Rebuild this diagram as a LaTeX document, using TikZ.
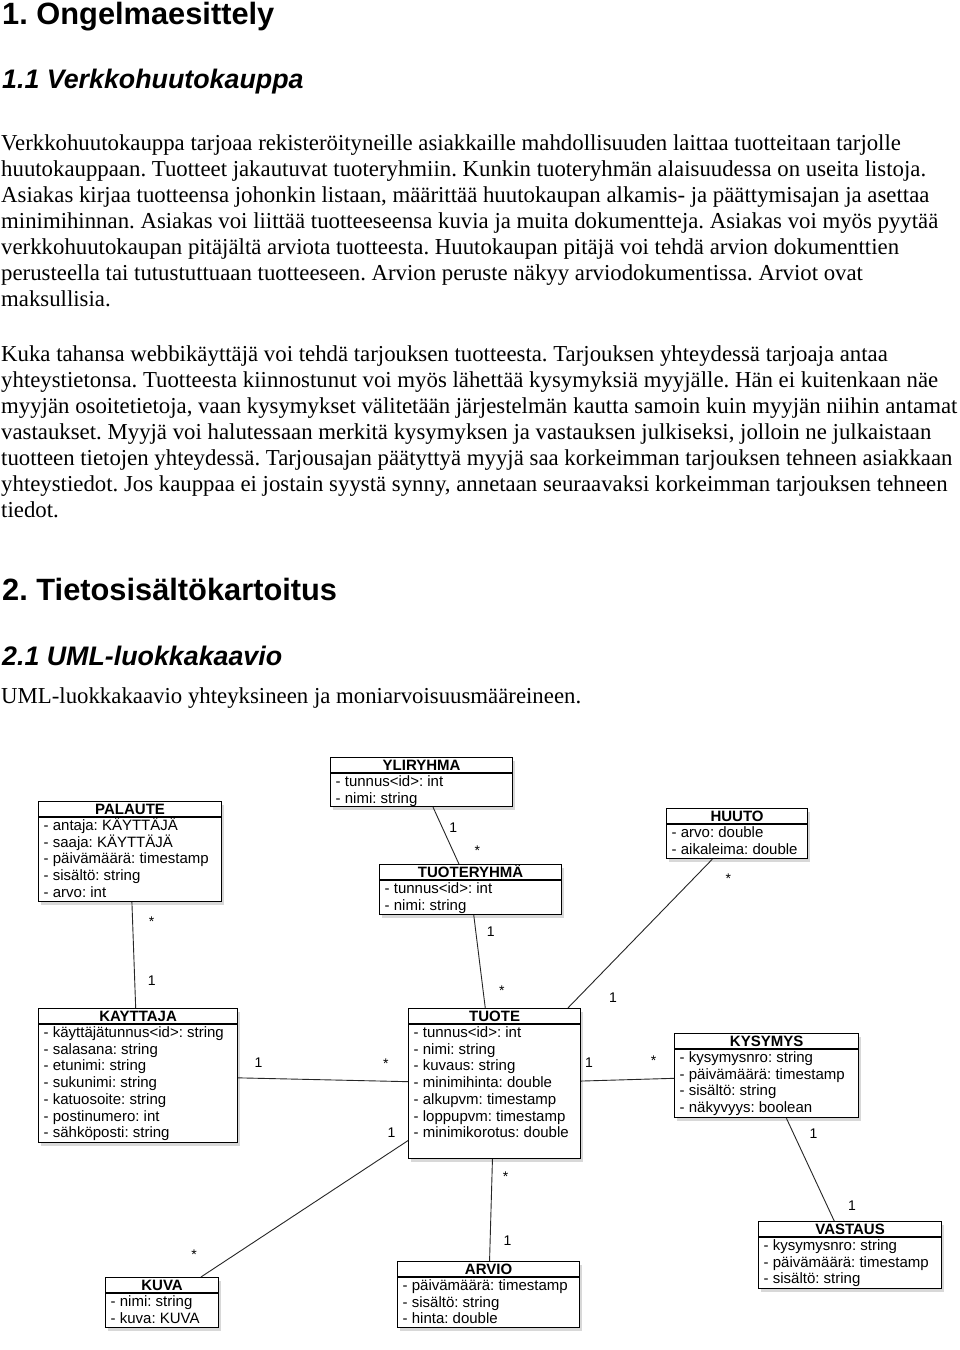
\documentclass[tikz,border=0pt]{standalone}
\usepackage{fontspec}
\setmainfont{Liberation Serif}
\setsansfont{Liberation Sans}
\usetikzlibrary{shadows}

\tikzset{
  classbox/.style={draw=black, line width=1.2pt, fill=white,
    drop shadow={shadow xshift=2pt, shadow yshift=-3pt, opacity=.3}},
  classtitle/.style={anchor=base, inner sep=0pt, font=\sffamily\bfseries\fontsize{15}{16}\selectfont},
  attr/.style={anchor=base west, inner sep=0pt, font=\sffamily\fontsize{15}{16}\selectfont},
  mult/.style={inner sep=0pt, font=\sffamily\fontsize{14}{15}\selectfont},
  multstar/.style={mult, yshift=-3pt},
  assoc/.style={draw=black!85, line width=0.9pt},
  heading/.style={anchor=base west, inner sep=0pt, font=\sffamily\bfseries\fontsize{30.8}{34}\selectfont},
  subheading/.style={anchor=base west, inner sep=0pt, font=\sffamily\bfseries\itshape\fontsize{26.8}{30}\selectfont},
  bodyline/.style={anchor=base west, inner sep=0pt, font=\fontsize{22.8}{26}\selectfont},
}

% name, x, y (top left), width, height, title, rows
\newcommand{\umlclass}[7]{%
  \node[classbox, minimum width=#4pt, minimum height=#5pt, anchor=north west] (#1) at (#2,#3) {};
  \draw[line width=1.2pt] ([yshift=-16pt]#1.north west) -- ([yshift=-16pt]#1.north east);
  \node[classtitle] (#1-title) at ([yshift=-13pt]#1.north) {#6};
  \foreach \row [count=\k] in {#7}
    \node[attr] (#1-\k) at ([xshift=5.5pt, yshift={-12.8pt-16.7pt*\k}]#1.north west) {\row};
}

\begin{document}
\frenchspacing
\begin{tikzpicture}[x=1pt, y=-1pt]
  \path[fill=white, use as bounding box] (0,0) rectangle (960,1350);

  % text part
  \node[heading] (h1) at (2,24) {1. Ongelmaesittely};
  \node[subheading] (h11) at (2,88) {1.1 Verkkohuutokauppa};
  \foreach \txt [count=\i] in {
      {Verkkohuutokauppa tarjoaa rekisteröityneille asiakkaille mahdollisuuden laittaa tuotteitaan tarjolle},
      {huutokauppaan. Tuotteet jakautuvat tuoteryhmiin. Kunkin tuoteryhmän alaisuudessa on useita listoja.},
      {Asiakas kirjaa tuotteensa johonkin listaan, määrittää huutokaupan alkamis- ja päättymisajan ja asettaa},
      {minimihinnan. Asiakas voi liittää tuotteeseensa kuvia ja muita dokumentteja. Asiakas voi myös pyytää},
      {verkkohuutokaupan pitäjältä arviota tuotteesta. Huutokaupan pitäjä voi tehdä arvion dokumenttien},
      {perusteella tai tutustuttuaan tuotteeseen. Arvion peruste näkyy arviodokumentissa. Arviot ovat},
      {maksullisia.}}
    \node[bodyline] (pa\i) at (1,{150+26*(\i-1)}) {\txt};
  \foreach \txt [count=\i] in {
      {Kuka tahansa webbikäyttäjä voi tehdä tarjouksen tuotteesta. Tarjouksen yhteydessä tarjoaja antaa},
      {yhteystietonsa. Tuotteesta kiinnostunut voi myös lähettää kysymyksiä myyjälle. Hän ei kuitenkaan näe},
      {myyjän osoitetietoja, vaan kysymykset välitetään järjestelmän kautta samoin kuin myyjän niihin antamat},
      {vastaukset. Myyjä voi halutessaan merkitä kysymyksen ja vastauksen julkiseksi, jolloin ne julkaistaan},
      {tuotteen tietojen yhteydessä. Tarjousajan päätyttyä myyjä saa korkeimman tarjouksen tehneen asiakkaan},
      {yhteystiedot. Jos kauppaa ei jostain syystä synny, annetaan seuraavaksi korkeimman tarjouksen tehneen},
      {tiedot.}}
    \node[bodyline] (pb\i) at (1,{361+26*(\i-1)}) {\txt};
  \node[heading] (h2) at (2,600) {2. Tietosisältökartoitus};
  \node[subheading] (h21) at (2,665) {2.1 UML-luokkakaavio};
  \node[bodyline] (pc1) at (1,703) {UML-luokkakaavio yhteyksineen ja moniarvoisuusmääreineen.};

  % classes
  \umlclass{palaute}{38}{801}{183}{100}{PALAUTE}{- antaja: KÄYTTÄJÄ, - saaja: KÄYTTÄJÄ,
    - päivämäärä: timestamp, - sisältö: string, - arvo: int}
  \umlclass{yliryhma}{330}{757}{182}{49}{YLIRYHMA}{- tunnus<id>: int, - nimi: string}
  \umlclass{tuoteryhma}{379}{864}{182}{50}{TUOTERYHMÄ}{- tunnus<id>: int, - nimi: string}
  \umlclass{huuto}{666}{808}{141}{50}{HUUTO}{- arvo: double, - aikaleima: double}
  \umlclass{kayttaja}{38}{1008}{199}{134}{KAYTTAJA}{- käyttäjätunnus<id>: string,
    - salasana: string, - etunimi: string, - sukunimi: string, - katuosoite: string,
    - postinumero: int, - sähköposti: string}
  \umlclass{tuote}{408}{1008}{172}{150}{TUOTE}{- tunnus<id>: int, - nimi: string,
    - kuvaus: string, - minimihinta: double, - alkupvm: timestamp, - loppupvm: timestamp,
    - minimikorotus: double}
  \umlclass{kysymys}{674}{1033}{184}{84}{KYSYMYS}{- kysymysnro: string,
    - päivämäärä: timestamp, - sisältö: string, - näkyvyys: boolean}
  \umlclass{vastaus}{758}{1221}{183}{67}{VASTAUS}{- kysymysnro: string,
    - päivämäärä: timestamp, - sisältö: string}
  \umlclass{kuva}{105}{1277}{113}{50}{KUVA}{- nimi: string, - kuva: KUVA}
  \umlclass{arvio}{397}{1261}{182}{66}{ARVIO}{- päivämäärä: timestamp, - sisältö: string,
    - hinta: double}

  % associations
  \draw[assoc] (palaute) -- node[multstar, pos=.16, xshift=19pt] (m1) {*}
    node[mult, pos=.74, xshift=17pt] (m2) {1} (kayttaja);
  \draw[assoc] (yliryhma) -- node[mult, pos=.36, xshift=11pt] (m3) {1}
    node[multstar, pos=.71, xshift=26pt] (m4) {*} (tuoteryhma);
  \draw[assoc] (tuoteryhma) -- node[mult, pos=.18, xshift=15pt] (m5) {1}
    node[multstar, pos=.78, xshift=19pt] (m6) {*} (tuote);
  \draw[assoc] (huuto) -- node[multstar, pos=.11, xshift=32pt] (m7) {*}
    node[mult, pos=.93, xshift=35pt] (m8) {1} (tuote);
  \draw[assoc] (kayttaja) -- node[mult, pos=.12, yshift=16pt] (m9) {1}
    node[multstar, pos=.87, yshift=20pt] (m10) {*} (tuote);
  \draw[assoc] (tuote) -- node[mult, pos=.08, yshift=19pt] (m11) {1}
    node[multstar, pos=.97, xshift=-13pt, yshift=21pt] (m12) {*} (kuva);
  \draw[assoc] (tuote) -- node[multstar, pos=.14, xshift=13.5pt] (m13) {*}
    node[mult, pos=.8, xshift=17.5pt] (m14) {1} (arvio);
  \draw[assoc] (tuote) -- node[mult, pos=.085, yshift=18pt] (m15) {1}
    node[multstar, pos=.78, yshift=21pt] (m16) {*} (kysymys);
  \draw[assoc] (kysymys) -- node[mult, pos=.15, xshift=20pt] (m17) {1}
    node[mult, pos=.85, xshift=25pt] (m18) {1} (vastaus);
\end{tikzpicture}
\end{document}
